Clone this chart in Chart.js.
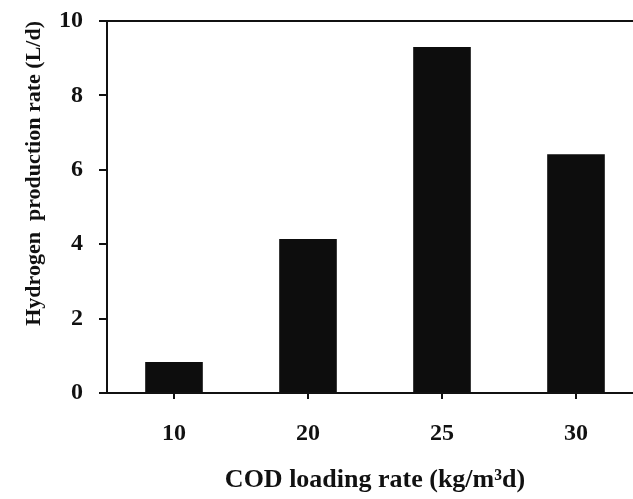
<!DOCTYPE html>
<html>
<head>
<meta charset="utf-8">
<script src="https://cdn.jsdelivr.net/npm/chart.js@4.4.1/dist/chart.umd.min.js"></script>
<style>
html,body{margin:0;padding:0;background:#fff;overflow:hidden;}
#wrap{width:643px;height:499px;}
</style>
</head>
<body>
<div id="wrap"><canvas id="c" width="643" height="499"></canvas></div>
<script>
const categories = ["10", "20", "25", "30"];
const hydrogenRate = [0.83, 4.14, 9.3, 6.42];
const yTicks = [0, 2, 4, 6, 8, 10];

const FONT = "'Liberation Serif', 'Times New Roman', serif";

const topLine = {
  id: 'topLine',
  afterDraw(chart) {
    const {ctx, chartArea} = chart;
    ctx.save();
    ctx.strokeStyle = '#111';
    ctx.lineWidth = 2;
    ctx.beginPath();
    ctx.moveTo(chartArea.left, chartArea.top);
    ctx.lineTo(chartArea.right, chartArea.top);
    ctx.stroke();
    ctx.restore();
  }
};

new Chart(document.getElementById('c'), {
  type: 'bar',
  data: {
    labels: categories,
    datasets: [{
      data: hydrogenRate,
      backgroundColor: '#0d0d0d',
      borderWidth: 0,
      barPercentage: 0.43,
      categoryPercentage: 1
    }]
  },
  options: {
    responsive: false,
    animation: false,
    devicePixelRatio: 1,
    layout: { padding: { top: 21, left: 0, right: 0, bottom: 0 } },
    plugins: { legend: { display: false }, tooltip: { enabled: false } },
    scales: {
      x: {
        grid: { display: true, drawOnChartArea: false, offset: false, tickLength: 6, color: '#111', lineWidth: 2 },
        border: { display: true, color: '#111', width: 2 },
        ticks: { color: '#111', font: { family: FONT, size: 24, weight: 'bold' }, padding: 20 },
        title: { display: true, text: 'COD loading rate (kg/m³d)', color: '#111',
                 font: { family: FONT, size: 26, weight: 'bold' }, padding: { top: 10, bottom: 3 } },
        afterFit(s) { s.height = 106; }
      },
      y: {
        min: 0, max: 10,
        afterBuildTicks(s) { s.ticks = yTicks.map(v => ({ value: v })); },
        grid: { display: true, drawOnChartArea: false, tickLength: 8, color: '#111', lineWidth: 2 },
        border: { display: true, color: '#111', width: 2 },
        ticks: { color: '#111', font: { family: FONT, size: 24, weight: 'bold' }, padding: 16 },
        title: { display: true, text: 'Hydrogen  production rate (L/d)', align: 'end', color: '#111',
                 font: { family: FONT, size: 22, weight: 'bold' }, padding: { top: 21, bottom: 0 } },
        afterFit(s) { s.width = 107; s.paddingTop = 0; s.paddingBottom = 0; }
      }
    }
  },
  plugins: [topLine]
});
</script>
</body>
</html>
